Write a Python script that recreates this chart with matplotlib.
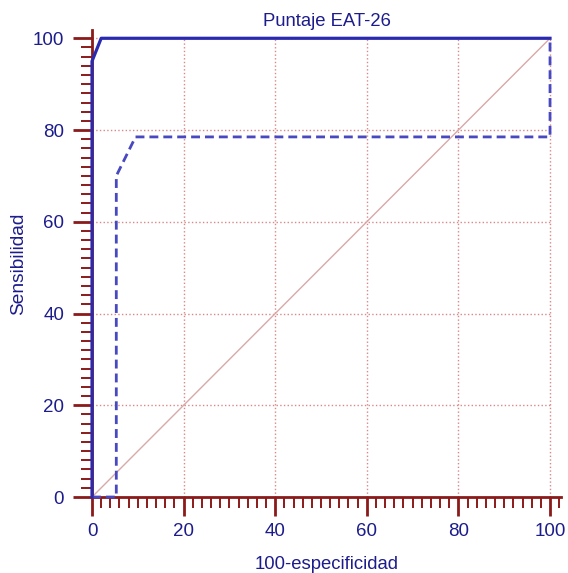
import numpy as np
from matplotlib import pyplot as plt
from matplotlib.ticker import MultipleLocator

plt.rcParams['font.family'] = ['Liberation Sans', 'DejaVu Sans']

# ROC curves
eat_fpr = [0, 0, 2, 100]
eat_sens = [0, 95, 100, 100]
alt_fpr = [0, 5.3, 5.3, 9.5, 100, 100]
alt_sens = [0, 0, 70, 78.5, 78.5, 100]
diag = [0, 100]
grid_pos = [20, 40, 60, 80, 100]

navy = "#1c1c8c"
red = "#8b1a1a"

fig = plt.figure(figsize=(5.68, 5.73), dpi=100)
ax = fig.add_axes([0.162, 0.1326, 0.8257, 0.815])

# grid only inside the 0..100 square
ax.hlines(grid_pos, 0, 100, color="#d88888", ls=":", lw=1.0, zorder=1)
ax.vlines(grid_pos, 0, 100, color="#d88888", ls=":", lw=1.0, zorder=1)

ax.plot(diag, diag, color="#d9a8a8", lw=1.0, zorder=2)
ax.plot(alt_fpr, alt_sens, "--", color="#4848c0", lw=2.0, dashes=(3.2, 1.8), clip_on=False, zorder=4)
ax.plot(eat_fpr, eat_sens, "-", color="#2a2ab0", lw=2.3, clip_on=False, zorder=5)

ax.set_xlim(0, 102.4)
ax.set_ylim(0, 101.8)
ax.xaxis.set_major_locator(MultipleLocator(20))
ax.yaxis.set_major_locator(MultipleLocator(20))
ax.xaxis.set_minor_locator(MultipleLocator(2))
ax.yaxis.set_minor_locator(MultipleLocator(2))

for s in ["top", "right"]:
    ax.spines[s].set_visible(False)
for s in ["left", "bottom"]:
    ax.spines[s].set_color(red)
    ax.spines[s].set_linewidth(2.0)

ax.tick_params(which="major", length=14, width=2.0, color=red, labelcolor=navy, labelsize=13.5)
ax.tick_params(which="minor", length=8, width=1.4, color=red)
ax.tick_params(axis="x", which="major", pad=5)
ax.tick_params(axis="y", which="major", pad=6)

ax.set_title("Puntaje EAT-26", color=navy, fontsize=13.3, pad=3)
ax.set_xlabel("100-especificidad", color=navy, fontsize=13.3, labelpad=11)
ax.set_ylabel("Sensibilidad", color=navy, fontsize=13.8, labelpad=4)

plt.savefig("out.png", dpi=100)
